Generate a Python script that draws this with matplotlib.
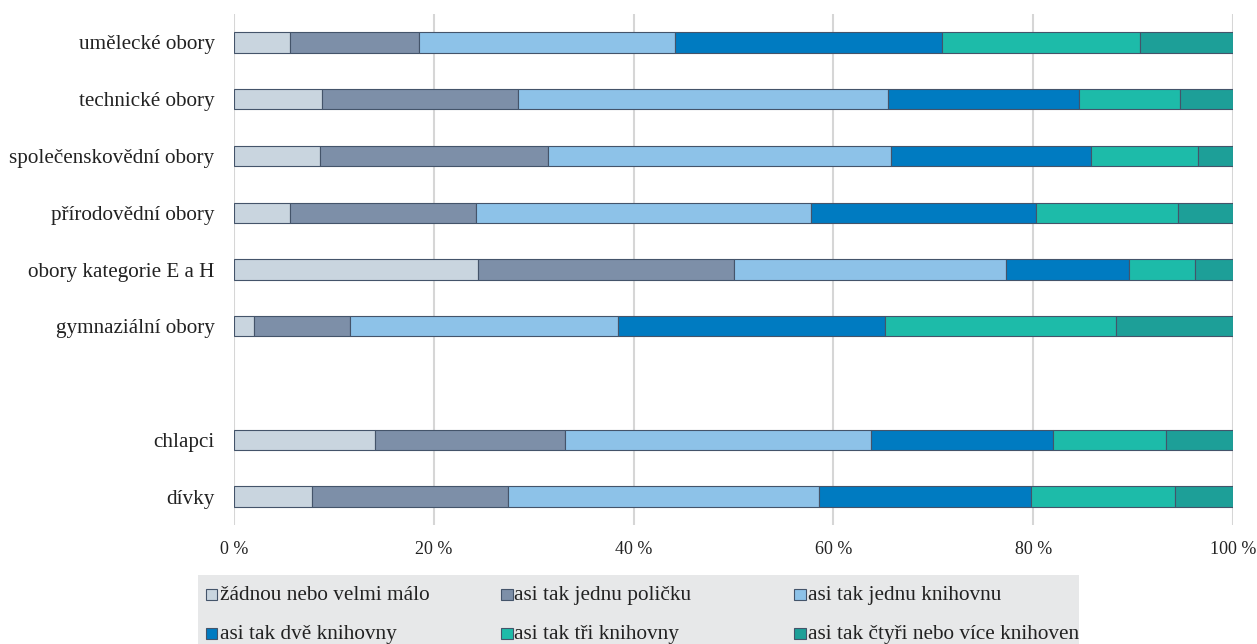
import numpy as np
import matplotlib
matplotlib.use('Agg')
import matplotlib.pyplot as plt
from matplotlib.patches import Rectangle

plt.rcParams['font.family'] = ['Liberation Serif', 'DejaVu Serif']

# categories top to bottom, None = empty gap row
categories = ['umělecké obory', 'technické obory', 'společenskovědní obory',
              'přírodovědní obory', 'obory kategorie E a H', 'gymnaziální obory',
              None, 'chlapci', 'dívky']

series_names = ['žádnou nebo velmi málo', 'asi tak jednu poličku',
                'asi tak jednu knihovnu', 'asi tak dvě knihovny',
                'asi tak tři knihovny', 'asi tak čtyři nebo více knihoven']

# shares in %, one list per series, order of categories (gap row skipped)
none_little = [5.6, 8.8, 8.6, 5.6, 24.4, 2.0, 14.1, 7.8]
one_shelf = [12.9, 19.6, 22.8, 18.6, 25.7, 9.6, 19.0, 19.6]
one_case = [25.6, 37.1, 34.4, 33.6, 27.2, 26.8, 30.7, 31.2]
two_cases = [26.8, 19.1, 20.0, 22.5, 12.3, 26.8, 18.2, 21.2]
three_cases = [19.8, 10.1, 10.7, 14.2, 6.6, 23.1, 11.3, 14.4]
four_more = [9.3, 5.3, 3.5, 5.5, 3.8, 11.7, 6.7, 5.8]

colors = ['#C9D5DF', '#7D8FA8', '#8DC2E8', '#007BC1', '#1DBBA9', '#1D9F98']
edge = '#44546A'

W, H = 1257, 644
fig = plt.figure(figsize=(W / 100, H / 100), dpi=100)


def fx(px):
    return px / W


def fy(py):
    return 1 - py / H


ax = fig.add_axes([fx(234), fy(525), fx(1233) - fx(234), fy(14) - fy(525)])

ypos = [i for i, c in enumerate(categories) if c is not None]
labels = [c for c in categories if c is not None]
data = [none_little, one_shelf, one_case, two_cases, three_cases, four_more]

left = np.zeros(len(ypos))
for vals, col, name in zip(data, colors, series_names):
    ax.barh(ypos, vals, left=left, height=0.36, color=col, edgecolor=edge,
            linewidth=0.8, label=name, zorder=3)
    left += np.array(vals)

ax.set_xlim(0, 100)
ax.set_ylim(len(categories) - 0.5, -0.5)
ax.set_yticks(ypos)
ax.set_yticklabels(labels, fontsize=15.2, color='#222222')
ax.set_xticks(np.arange(0, 101, 20))
ax.set_xticklabels([f'{v} %' for v in range(0, 101, 20)], fontsize=13, color='#222222')
ax.tick_params(axis='both', length=0)
ax.tick_params(axis='y', pad=14)
ax.tick_params(axis='x', pad=11.5)
ax.grid(axis='x', color='#D6D6D6', linewidth=1.5, zorder=0)
for s in ax.spines.values():
    s.set_visible(False)

# legend box drawn by hand (equal columns, grey background)
fig.patches.append(Rectangle((fx(198), fy(644)), fx(1079) - fx(198), fy(575) - fy(644),
                             transform=fig.transFigure, facecolor='#E7E8E9',
                             edgecolor='none', zorder=0))
col_x = [206, 501, 794]
row_base = [600, 638.5]
for i, (name, col) in enumerate(zip(series_names, colors)):
    cx = col_x[i % 3]
    by = row_base[i // 3]
    fig.patches.append(Rectangle((fx(cx), fy(by)), fx(11.5), 11 / H,
                                 transform=fig.transFigure, facecolor=col,
                                 edgecolor=edge, linewidth=0.8, zorder=2))
    fig.text(fx(cx + 13.5), fy(by), name, fontsize=15.3, color='#222222',
             va='baseline', ha='left')

plt.savefig('out.png', dpi=100)
